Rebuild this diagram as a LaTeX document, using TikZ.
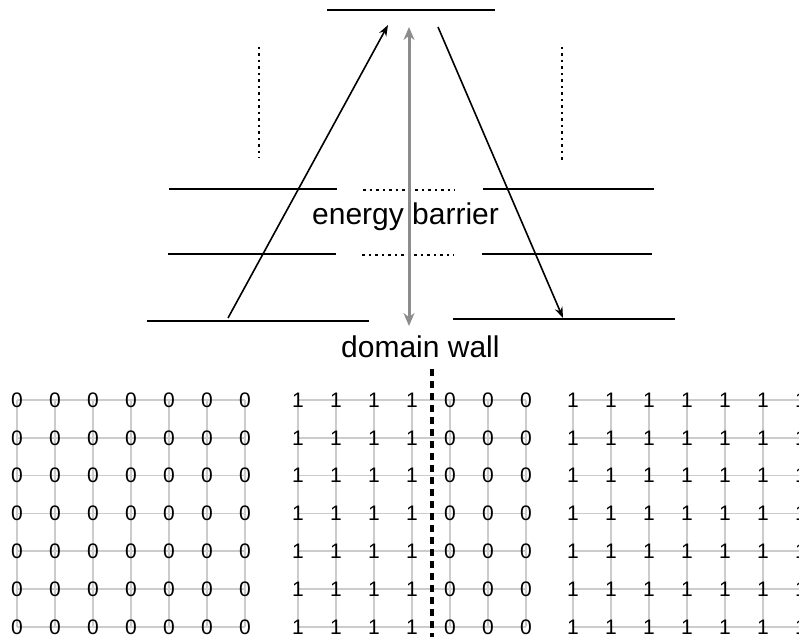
\documentclass[tikz,border=0pt]{standalone}
\usepackage{fontspec}
\setmainfont{Liberation Sans}
\usetikzlibrary{arrows.meta}
\begin{document}
\begin{tikzpicture}[x=1pt,y=-1pt,
  level/.style={line width=2pt,black},
  dotline/.style={line width=1.5pt,dash pattern=on 2.5pt off 4pt},
  jump/.style={line width=1.6pt,-{Stealth[length=11pt,width=8pt]}},
  barrier/.style={line width=3pt,draw=black!45,fill=black!45,{Stealth[length=13pt,width=11pt]}-{Stealth[length=13pt,width=11pt]}},
  gridline/.style={line width=1.5pt,draw=black!20},
  bit/.style={inner sep=0pt,font=\fontsize{21}{21}\selectfont},
  lbl/.style={inner sep=0pt,font=\fontsize{30}{30}\selectfont},
  wall/.style={line width=3.3pt,dash pattern=on 7pt off 5pt}]
\useasboundingbox (0,0) rectangle (799,636);
\clip (0,0) rectangle (799,636);

% ---------- energy levels ----------
\coordinate (T1) at (327,10);   \coordinate (T2) at (495,10);
\draw[level] (T1) -- (T2);

\coordinate (LV1a) at (259,47);  \coordinate (LV1b) at (259,158);
\coordinate (RV1a) at (562,47);  \coordinate (RV1b) at (562,160);
\draw[dotline] (LV1a) -- (LV1b);
\draw[dotline] (RV1a) -- (RV1b);

\coordinate (L1a) at (169,189); \coordinate (L1b) at (337,189);
\coordinate (L2a) at (168,254); \coordinate (L2b) at (336,254);
\draw[level] (L1a) -- (L1b);
\draw[level] (L2a) -- (L2b);

\coordinate (M1a) at (363,190); \coordinate (M1b) at (455,190);
\coordinate (M2a) at (362,255); \coordinate (M2b) at (454,255);
\draw[dotline] (M1a) -- (M1b);
\draw[dotline] (M2a) -- (M2b);

\coordinate (R1a) at (483,189); \coordinate (R1b) at (654,189);
\coordinate (R2a) at (482,254); \coordinate (R2b) at (652,254);
\draw[level] (R1a) -- (R1b);
\draw[level] (R2a) -- (R2b);

\coordinate (BLa) at (147,321); \coordinate (BLb) at (369,321);
\coordinate (BRa) at (453,319); \coordinate (BRb) at (675,319);
\draw[level] (BLa) -- (BLb);
\draw[level] (BRa) -- (BRb);

% arrows
\coordinate (upS) at (228,318); \coordinate (upE) at (388,25);
\coordinate (dnS) at (438,27);  \coordinate (dnE) at (563,318);
\draw[jump] (upS) -- (upE);
\draw[jump] (dnS) -- (dnE);

\node[lbl,anchor=base west] (eb) at (312,224) {energy barrier};

\coordinate (gbT) at (409,27); \coordinate (gbB) at (409,326);
\draw[barrier] (gbT) -- (gbB);

\node[lbl,anchor=base west] (dw) at (341,357) {domain wall};

% ---------- lattices ----------
\foreach \c in {0,...,6}{
  \foreach \r in {0,...,6}{
    \coordinate (A-\c-\r) at ({17+38*\c},{400+37.8*\r});
    \coordinate (B-\c-\r) at ({298+38*\c},{400+37.8*\r});
    \coordinate (C-\c-\r) at ({573+38*\c},{400+37.8*\r});
  }
}
\foreach \g in {A,B,C}{
  \foreach \r in {0,...,6}{ \draw[gridline] (\g-0-\r) -- (\g-6-\r); }
  \foreach \c in {0,...,6}{ \draw[gridline] (\g-\c-0) -- (\g-\c-6); }
}
\foreach \c in {0,...,6}{
  \foreach \r in {0,...,6}{
    \node[bit] (a-\c-\r) at (A-\c-\r) {0};
    \node[bit] (b-\c-\r) at (B-\c-\r) {\ifnum\c<4 1\else 0\fi};
    \node[bit] (c-\c-\r) at (C-\c-\r) {1};
  }
}

\coordinate (wT) at (432,369); \coordinate (wB) at (432,640);
\draw[wall] (wT) -- (wB);
\end{tikzpicture}
\end{document}
